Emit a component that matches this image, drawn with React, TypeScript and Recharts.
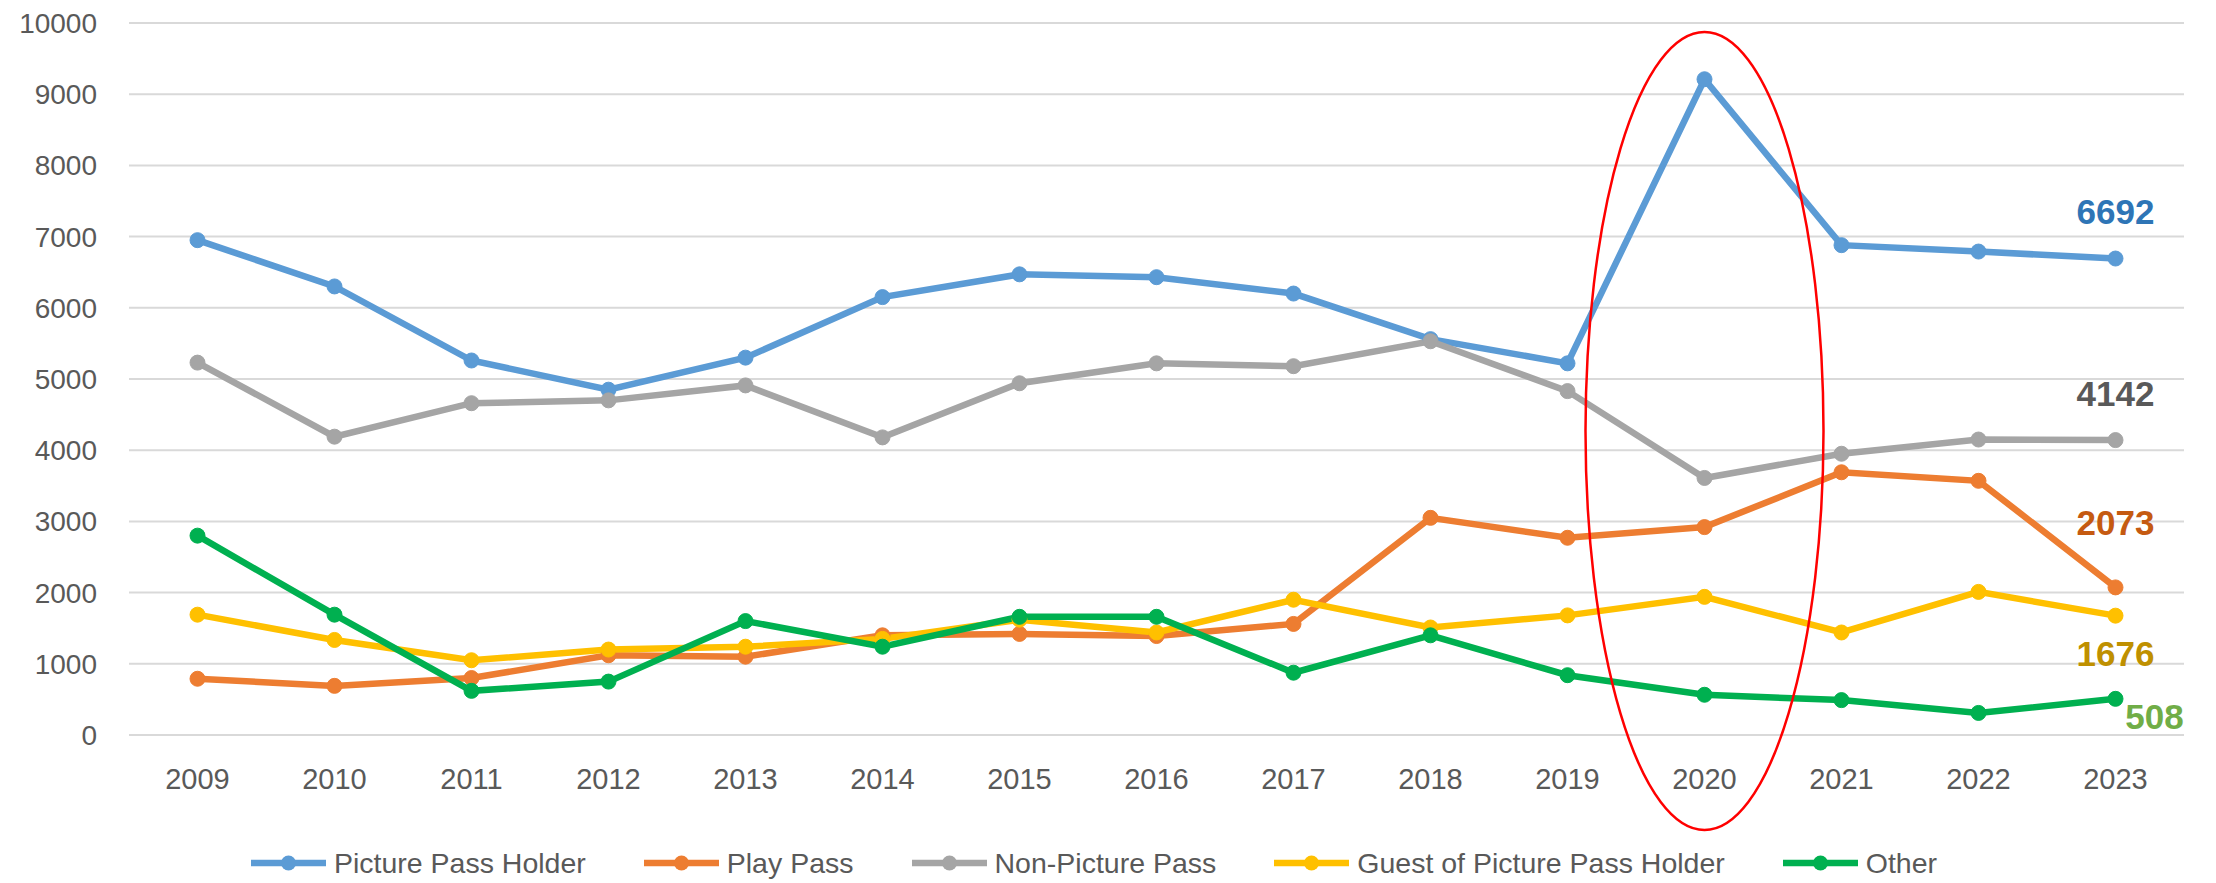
import React from 'react';
import { LineChart, Line, XAxis, YAxis, CartesianGrid, Legend, LabelList, ReferenceDot } from 'recharts';

const years = ['2009', '2010', '2011', '2012', '2013', '2014', '2015', '2016', '2017', '2018', '2019', '2020', '2021', '2022', '2023'];
const pictureHolder = [6950, 6300, 5260, 4850, 5300, 6150, 6470, 6430, 6200, 5560, 5220, 9210, 6880, 6790, 6692];
const playPass = [790, 690, 800, 1120, 1100, 1400, 1420, 1390, 1560, 3050, 2770, 2920, 3690, 3570, 2073];
const nonPicture = [5230, 4190, 4660, 4700, 4910, 4180, 4940, 5220, 5180, 5530, 4830, 3610, 3950, 4150, 4142];
const guest = [1690, 1335, 1050, 1200, 1240, 1350, 1620, 1440, 1900, 1510, 1680, 1940, 1440, 2010, 1676];
const other = [2800, 1690, 620, 750, 1600, 1240, 1660, 1660, 875, 1400, 840, 565, 490, 310, 508];
const yTicks = [0, 1000, 2000, 3000, 4000, 5000, 6000, 7000, 8000, 9000, 10000];

const data = years.map((year, i) => ({
  year,
  picture: pictureHolder[i],
  play: playPass[i],
  nonPicture: nonPicture[i],
  guest: guest[i],
  other: other[i],
}));

const series = [
  { key: 'picture', name: 'Picture Pass Holder', color: '#5B9BD5', label: '#2E75B6', dx: 0, dy: -47 },
  { key: 'play', name: 'Play Pass', color: '#ED7D31', label: '#C55A11', dx: 0, dy: -65 },
  { key: 'nonPicture', name: 'Non-Picture Pass', color: '#A5A5A5', label: '#595959', dx: 0, dy: -47 },
  { key: 'guest', name: 'Guest of Picture Pass Holder', color: '#FFC000', label: '#BF9000', dx: 0, dy: 38 },
  { key: 'other', name: 'Other', color: '#00B050', label: '#70AD47', dx: 39, dy: 18 },
];

const FONT = "'Liberation Sans', Arial, sans-serif";
const last = years.length - 1;

// only the 2023 point gets a value label
const endLabel = (color: string, dx: number, dy: number) => (props: any) => {
  if (props.index !== last) return null;
  return (
    <text
      x={props.x + dx}
      y={props.y + dy}
      textAnchor="middle"
      dominantBaseline="central"
      fill={color}
      fontFamily={FONT}
      fontWeight="bold"
      fontSize={35}
    >
      {props.value}
    </text>
  );
};

const LegendContent = () => (
  <div style={{ display: 'flex', justifyContent: 'center', alignItems: 'center', height: 40, fontFamily: FONT, fontSize: 28.5, color: '#595959', paddingLeft: 4 }}>
    {series.map((s, i) => (
      <div key={s.key} style={{ display: 'flex', alignItems: 'center', marginRight: i < series.length - 1 ? 58 : 0 }}>
        <svg width={75} height={20} style={{ marginRight: 8 }}>
          <line x1={0} y1={10} x2={75} y2={10} stroke={s.color} strokeWidth={6.5} strokeLinecap="round" />
          <circle cx={37.5} cy={10} r={7.5} fill={s.color} />
        </svg>
        <span>{s.name}</span>
      </div>
    ))}
  </div>
);

export default function App() {
  return (
    <div style={{ position: 'absolute', left: 0, top: 0, background: '#fff' }}>
      <LineChart width={2216} height={883} data={data} margin={{ top: 23, right: 32, left: 0, bottom: 0 }}>
        <CartesianGrid vertical={false} stroke="#D9D9D9" strokeWidth={2} />
        <XAxis
          dataKey="year"
          axisLine={false}
          tickLine={false}
          tickSize={0}
          tickMargin={33}
          height={108}
          interval={0}
          padding={{ left: 68.5, right: 68.5 }}
          tick={{ fill: '#595959', fontSize: 29, fontFamily: FONT }}
        />
        <YAxis
          domain={[0, 10000]}
          ticks={yTicks}
          axisLine={false}
          tickLine={false}
          tickSize={0}
          tickMargin={32}
          width={129}
          tick={{ fill: '#595959', fontSize: 28, fontFamily: FONT }}
        />
        <Legend verticalAlign="bottom" height={40} content={LegendContent} />
        {series.map((s) => (
          <Line
            key={s.key}
            type="linear"
            dataKey={s.key}
            name={s.name}
            stroke={s.color}
            strokeWidth={6.5}
            dot={{ r: 7.5, fill: s.color, stroke: s.color, strokeWidth: 1 }}
            isAnimationActive={false}
          >
            <LabelList dataKey={s.key} content={endLabel(s.label, s.dx, s.dy)} />
          </Line>
        ))}
        <ReferenceDot
          x="2020"
          y={4270}
          ifOverflow="visible"
          shape={(p: any) => (
            <ellipse cx={p.cx} cy={p.cy} rx={119} ry={399} fill="none" stroke="#FF0000" strokeWidth={2.5} />
          )}
        />
      </LineChart>
    </div>
  );
}
